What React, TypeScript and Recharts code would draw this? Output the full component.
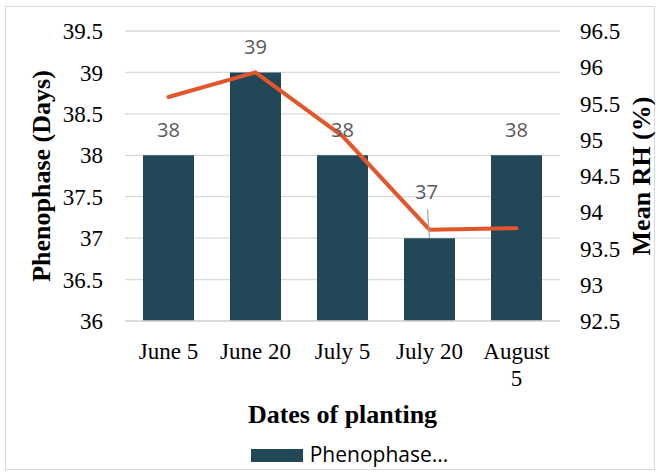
import { Bar, CartesianGrid, ComposedChart, Label, Legend, Line, XAxis, YAxis } from "recharts";

const dates = ["June 5", "June 20", "July 5", "July 20", "August 5"];
const phenophase = [38, 39, 38, 37, 38];
const meanRH = [95.59, 95.93, 95.05, 93.76, 93.78];
const daysTicks = [36, 36.5, 37, 37.5, 38, 38.5, 39, 39.5];
const rhTicks = [92.5, 93, 93.5, 94, 94.5, 95, 95.5, 96, 96.5];

const data = dates.map((d, i) => ({ date: d, days: phenophase[i], rh: meanRH[i] }));

const BAR = "#224759";
const LINE = "#e1562a";
const GRID = "#d9d9d9";
const SERIF = "'Liberation Serif', 'Times New Roman', serif";
const SANS = "'Open Sans', sans-serif";

function DateTick({ x, y, payload }: any) {
  const text: string = payload.value;
  const lines = text.length > 7 ? text.split(" ") : [text];
  return (
    <text x={x} y={y + 36} textAnchor="middle" fontFamily={SERIF} fontSize={23} fill="#000">
      {lines.map((l, i) => (
        <tspan key={i} x={x} dy={i === 0 ? 0 : 27}>
          {l}
        </tspan>
      ))}
    </text>
  );
}

function BarValue(props: any) {
  const { x, y, width, value, index } = props;
  const cx = x + width / 2;
  // the July 20 label sits higher with a leader line, like the original
  if (index === 3) {
    return (
      <g>
        <line x1={cx - 2} y1={y - 29} x2={cx} y2={y} stroke="#a6a6a6" strokeWidth={1.2} />
        <text x={cx - 3} y={y - 39} textAnchor="middle" fontFamily={SANS} fontSize={20} fill="#595959">
          {value}
        </text>
      </g>
    );
  }
  return (
    <text x={cx} y={y - 18} textAnchor="middle" fontFamily={SANS} fontSize={20} fill="#595959">
      {value}
    </text>
  );
}

function LegendBox() {
  return (
    <div style={{ height: 28, display: "flex", justifyContent: "center", alignItems: "flex-start" }}>
      <div style={{ display: "flex", alignItems: "center", marginLeft: 39 }}>
        <span style={{ width: 52, height: 13, background: BAR, display: "inline-block", marginRight: 7, marginTop: 1 }} />
        <span style={{ fontFamily: SANS, fontSize: 21, color: "#000", lineHeight: "15px" }}>Phenophase...</span>
      </div>
    </div>
  );
}

function VTitle({ viewBox, text, dx }: any) {
  const cx = viewBox.x + dx;
  const cy = viewBox.y + viewBox.height / 2;
  return (
    <text
      x={cx}
      y={cy}
      transform={`rotate(-90 ${cx} ${cy})`}
      textAnchor="middle"
      dominantBaseline="central"
      fontFamily={SERIF}
      fontWeight="bold"
      fontSize={26}
      fill="#000"
    >
      {text}
    </text>
  );
}

export default function App() {
  return (
    <div style={{ position: "absolute", left: 0, top: 0, width: 660, height: 475, background: "#fff" }}>
      <div
        style={{
          position: "absolute",
          left: 5,
          top: 6,
          width: 648,
          height: 462,
          border: `1.5px solid ${GRID}`,
          pointerEvents: "none",
        }}
      />
      <ComposedChart width={660} height={475} data={data} margin={{ top: 31, right: 0, bottom: 0, left: 0 }}>
        <CartesianGrid vertical={false} stroke={GRID} strokeWidth={1.3} yAxisId="left" />
        <XAxis
          dataKey="date"
          height={126}
          axisLine={{ stroke: GRID, strokeWidth: 1.3 }}
          tickLine={false}
          tickSize={0}
          tick={<DateTick />}
          interval={0}
        >
          <Label
            content={({ viewBox }: any) => (
              <text
                x={viewBox.x + viewBox.width / 2}
                y={viewBox.y + 102}
                textAnchor="middle"
                fontFamily={SERIF}
                fontWeight="bold"
                fontSize={26}
                fill="#000"
              >
                Dates of planting
              </text>
            )}
          />
        </XAxis>
        <YAxis
          yAxisId="left"
          width={125}
          domain={[36, 39.5]}
          ticks={daysTicks}
          interval={0}
          axisLine={false}
          tickLine={false}
          tickSize={0}
          tickMargin={22}
          tick={{ fontFamily: SERIF, fontSize: 23, fill: "#000" }}
        >
          <Label content={(p: any) => <VTitle viewBox={p.viewBox} text="Phenophase (Days)" dx={41} />} />
        </YAxis>
        <YAxis
          yAxisId="right"
          orientation="right"
          width={100}
          domain={[92.5, 96.5]}
          ticks={rhTicks}
          interval={0}
          axisLine={false}
          tickLine={false}
          tickSize={0}
          tickMargin={20}
          tick={{ fontFamily: SERIF, fontSize: 23, fill: "#000" }}
        >
          <Label content={(p: any) => <VTitle viewBox={p.viewBox} text="Mean RH (%)" dx={81} />} />
        </YAxis>
        <Legend verticalAlign="bottom" content={<LegendBox />} />
        <Bar yAxisId="left" dataKey="days" fill={BAR} barSize={51} isAnimationActive={false} label={BarValue} />
        <Line
          yAxisId="right"
          dataKey="rh"
          type="linear"
          stroke={LINE}
          strokeWidth={4}
          strokeLinecap="round"
          dot={false}
          activeDot={false}
          isAnimationActive={false}
        />
      </ComposedChart>
    </div>
  );
}
